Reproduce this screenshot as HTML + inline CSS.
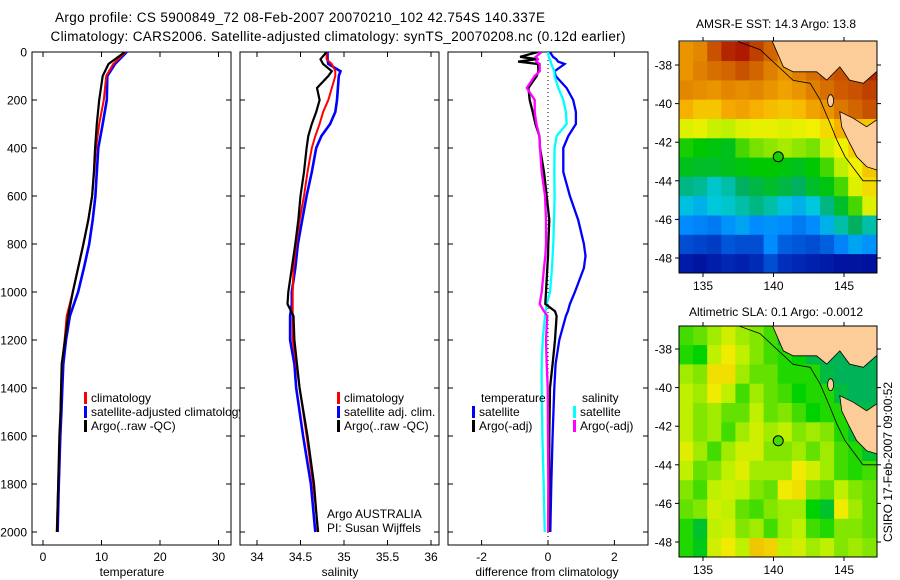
<!DOCTYPE html>
<html><head><meta charset="utf-8"><style>
html,body{margin:0;padding:0;background:#fff;}
svg{display:block;font-family:"Liberation Sans",Arial,sans-serif;}
</style></head><body>
<svg id="fig" width="900" height="580" viewBox="0 0 900 580" xmlns="http://www.w3.org/2000/svg">
<defs>
<clipPath id="clipMap1"><rect x="679" y="41" width="198" height="232"/></clipPath>
<clipPath id="clipMap2"><rect x="679" y="326" width="198" height="231"/></clipPath>
<clipPath id="clipP1"><rect x="32" y="52" width="199" height="493"/></clipPath>
<clipPath id="clipP2"><rect x="240" y="52" width="199" height="493"/></clipPath>
<clipPath id="clipP3"><rect x="448" y="52" width="200" height="493"/></clipPath>
</defs>
<text x="300" y="22" text-anchor="middle" font-size="13.5" textLength="490">Argo profile: CS 5900849_72 08-Feb-2007 20070210_102 42.754S 140.337E</text>
<text x="338" y="41" text-anchor="middle" font-size="13.5" textLength="575">Climatology: CARS2006. Satellite-adjusted climatology: synTS_20070208.nc (0.12d earlier)</text>
<g id="p1"></g>
<g id="p2"></g>
<g id="p3"></g>
<g id="m1"></g>
<g id="m2"></g>
<text x="776" y="28" text-anchor="middle" font-size="12">AMSR-E SST: 14.3 Argo: 13.8</text>
<text x="776" y="316" text-anchor="middle" font-size="12">Altimetric SLA: 0.1 Argo: -0.0012</text>
<text transform="translate(892,462) rotate(-90)" text-anchor="middle" font-size="12">CSIRO 17-Feb-2007 09:00:52</text>
</svg>
<script>
// ---------- data ----------
const depthT = [0,50,100,200,300,400,500,600,700,800,900,1000,1100,1200,1300,1400,1500,1600,1800,2000];
const tempArgo = [14.0,11.2,10.2,9.6,9.2,8.9,8.7,8.4,7.75,6.9,6.0,5.1,4.3,3.76,3.2,3.1,3.0,2.8,2.6,2.4];
const tempClim = [14.1,12.0,10.8,10.4,9.6,9.06,8.75,8.4,7.75,6.9,6.0,5.1,4.05,3.7,3.25,3.1,3.0,2.85,2.6,2.35];
const tempSat = [14.3,12.3,11.0,10.9,10.2,9.45,9.2,8.95,8.5,7.9,7.0,6.0,4.6,3.93,3.47,3.3,3.15,2.95,2.7,2.5];

const depthS = [0,30,50,80,100,150,200,250,300,350,400,500,600,700,800,900,1000,1050,1100,1200,1300,1400,1600,1800,2000];
const salArgo = [34.80,34.73,34.76,34.86,34.82,34.69,34.72,34.68,34.63,34.59,34.57,34.54,34.50,34.475,34.44,34.40,34.36,34.35,34.42,34.43,34.46,34.49,34.58,34.655,34.70];
const salClim = [34.80,34.80,34.86,34.90,34.90,34.86,34.82,34.76,34.72,34.67,34.63,34.58,34.54,34.49,34.45,34.42,34.41,34.41,34.41,34.41,34.45,34.49,34.57,34.645,34.705];
const salSat = [34.81,34.81,34.82,34.96,34.94,34.93,34.92,34.90,34.84,34.74,34.68,34.63,34.57,34.52,34.47,34.44,34.40,34.40,34.38,34.38,34.43,34.45,34.53,34.62,34.67];

const depthD = [0,20,30,40,50,80,100,150,200,250,300,350,400,500,600,700,800,850,900,1000,1050,1080,1100,1200,1300,1400,1600,1800,2000];
const diffTSat = [0.06,0.15,0.25,0.3,0.5,0.2,0.23,0.56,0.76,0.84,0.84,0.61,0.46,0.46,0.66,0.91,1.08,1.13,1.08,0.81,0.66,0.6,0.54,0.34,0.23,0.19,0.14,0.1,0.07];
const diffTArgo = [-0.3,-0.84,-0.34,-0.9,-0.3,-0.29,-0.34,-0.59,-0.55,-0.46,-0.38,-0.26,-0.24,-0.12,-0.04,0.04,0.01,0,-0.02,-0.06,-0.08,0.21,0.26,0.21,0.14,0.06,0.04,0.04,0.03];
const diffSSat = [0,0.02,0.05,0.08,0.1,0.19,0.2,0.31,0.46,0.54,0.56,0.26,0.2,0.19,0.2,0.18,0.16,0.14,0.12,0.06,-0.04,-0.07,-0.09,-0.16,-0.19,-0.19,-0.17,-0.13,-0.1];
const diffSArgo = [-0.19,-0.37,-0.3,-0.35,-0.25,-0.25,-0.4,-0.64,-0.4,-0.4,-0.35,-0.26,-0.24,-0.19,-0.09,-0.06,-0.06,-0.08,-0.12,-0.19,-0.25,-0.12,-0.02,-0.06,-0.04,-0.01,0.0,0.01,0];

const depthTicks = [0,200,400,600,800,1000,1200,1400,1600,1800,2000];
const tempTicks = [0,10,20,30];
const salTicks = [34,34.5,35,35.5,36];
const diffTicks = [-2,0,2];

const mapLons = [133.8,134.8,135.8,136.8,137.8,138.8,139.8,140.8,141.8,142.8,143.8,144.8,145.8,146.8];
const mapLats = [-37.3,-38.3,-39.3,-40.3,-41.3,-42.3,-43.3,-44.3,-45.3,-46.3,-47.3,-48.3];
const sstGrid = [
[16.0,16.2,16.8,17.2,17.3,17.0,16.6,16.0,15.5,16.5,16.5,16.5,16.5,16.5],
[16.0,16.3,16.5,16.6,16.8,16.6,16.3,16.0,16.3,16.5,16.7,16.8,17.0,17.2],
[16.2,16.1,16.0,16.2,16.1,16.2,16.0,15.8,16.0,16.3,16.5,16.7,16.8,17.0],
[15.6,15.4,15.4,15.7,15.8,15.6,15.5,15.4,15.5,15.8,16.0,16.4,16.6,16.8],
[14.8,14.9,14.6,14.5,14.8,14.9,14.9,14.8,14.9,15.0,15.2,15.6,15.5,15.4],
[13.8,13.7,13.6,13.5,14.0,14.2,14.3,14.4,14.3,14.2,14.6,15.0,15.3,15.2],
[13.5,13.4,13.4,13.5,13.6,13.7,13.7,13.6,13.5,13.7,14.0,14.5,15.0,15.4],
[12.8,12.7,12.4,12.6,13.0,13.2,13.4,13.2,13.0,13.4,13.6,14.0,14.8,15.2],
[12.2,12.0,12.3,12.4,12.6,12.8,12.6,12.2,12.0,12.3,12.8,13.4,14.0,14.8],
[11.5,11.4,11.3,11.6,11.8,11.5,11.6,11.5,11.3,11.5,12.0,12.6,13.0,12.6],
[10.8,10.7,10.6,10.9,10.8,10.8,11.5,11.0,10.9,10.8,11.0,11.4,11.8,11.6],
[9.8,9.6,9.9,10.2,10.0,10.3,10.8,10.4,10.2,10.0,9.8,9.6,9.6,9.5]];
const slaGrid = [
[0.35,0.4,0.5,0.6,0.5,0.45,0.35,0.1,0.05,0.05,0.05,0.05,0.05,0.05],
[0.3,0.25,0.55,0.7,0.55,0.45,0.35,0.3,0.25,0.1,0.05,0.05,0.05,0.05],
[0.5,0.45,0.75,0.75,0.5,0.4,0.4,0.3,0.3,0.3,0.1,0.05,0.05,0.05],
[0.55,0.5,0.7,0.55,0.35,0.5,0.4,0.35,0.25,0.3,0.3,0.1,0.05,0.05],
[0.55,0.45,0.5,0.4,0.4,0.55,0.4,0.45,0.35,0.25,0.3,0.3,0.1,0.1],
[0.55,0.45,0.5,0.35,0.5,0.6,0.5,0.55,0.45,0.5,0.45,0.3,0.15,0.1],
[0.65,0.5,0.35,0.5,0.6,0.6,0.45,0.45,0.5,0.4,0.5,0.35,0.3,0.15],
[0.55,0.4,0.45,0.55,0.65,0.5,0.5,0.5,0.7,0.6,0.5,0.35,0.3,0.35],
[0.45,0.35,0.55,0.6,0.55,0.45,0.4,0.7,0.75,0.45,0.4,0.55,0.45,0.4],
[0.4,0.45,0.6,0.55,0.4,0.35,0.45,0.5,0.5,0.25,0.15,0.7,0.5,0.4],
[0.3,0.15,0.55,0.6,0.45,0.5,0.35,0.5,0.55,0.35,0.3,0.45,0.45,0.4],
[0.3,0.2,0.6,0.7,0.55,0.85,0.8,0.55,0.6,0.5,0.55,0.45,0.5,0.45]];
const lonTicks = [135,140,145];
const latTicks = [-38,-40,-42,-44,-46,-48];
const argoPos = [140.337,-42.754];
const argoSST = 13.8;
const argoSLA = 0.35;

// ---------- helpers ----------
const NS = "http://www.w3.org/2000/svg";
function mk(parent, tag, attrs){const e=document.createElementNS(NS,tag);for(const k in attrs)e.setAttribute(k,attrs[k]);parent.appendChild(e);return e;}
const yD = d => 52 + 0.24*d;
const xT = v => 43 + 5.85*v;
const xS = v => 257 + 87*(v-34);
const xDf = v => 548 + 33.2*v;
const lonX = l => 703 + 14.1*(l-135);
const latY1 = l => 65 + 19.3*(-38-l);
const latY2 = l => 349 + 19.3*(-38-l);

function line(g, xs, vals, depths, xf, color, w, name, clip){
  const pts = vals.map((v,i)=>xf(v).toFixed(1)+","+yD(depths[i]).toFixed(1)).join(" ");
  const p = mk(g,"polyline",{points:pts,fill:"none",stroke:color,"stroke-width":w,"stroke-linejoin":"miter","clip-path":"url(#"+clip+")"});
  
  
}
function frame(g, x0, x1, name){
  const r = mk(g,"rect",{x:x0,y:52,width:x1-x0,height:493,fill:"#fff",stroke:"#000","stroke-width":1});
  
  
}
function yAxis(g, x0, x1, labels){
  depthTicks.forEach(d=>{
    const y=yD(d);
    mk(g,"line",{x1:x0,y1:y,x2:x0+5,y2:y,stroke:"#000"});
    mk(g,"line",{x1:x1-5,y1:y,x2:x1,y2:y,stroke:"#000"});
    if(labels){
      const t=mk(g,"text",{x:x0-5,y:y+4.5,"text-anchor":"end","font-size":12});
      t.textContent=d;
      
      
    }
  });
}
function xAxis(g, ticks, xf, fmt, title, cx){
  ticks.forEach(v=>{
    const x=xf(v);
    mk(g,"line",{x1:x,y1:52,x2:x,y2:57,stroke:"#000"});
    mk(g,"line",{x1:x,y1:540,x2:x,y2:545,stroke:"#000"});
    const t=mk(g,"text",{x:x,y:561,"text-anchor":"middle","font-size":12});
    t.textContent=fmt(v);
    
    
  });
  const t=mk(g,"text",{x:cx,y:576,"text-anchor":"middle","font-size":12});
  t.textContent=title;
  
  
}
function legend(g, x, y, color, text, name){
  if(color){mk(g,"rect",{x:x,y:y-10,width:3,height:12,fill:color});}
  const t=mk(g,"text",{x:x+7,y:y,"font-size":12});
  t.textContent=text;
  
  
}

// ---------- panel 1 ----------
const p1=document.getElementById("p1");
frame(p1,32,231,"temperature-axes");
yAxis(p1,32,231,true);
xAxis(p1,tempTicks,xT,v=>v,"temperature",132);
line(p1,null,tempSat,depthT,xT,"#0000ff",2.6,"temp-satellite-line","clipP1");
line(p1,null,tempClim,depthT,xT,"#ff0000",2,"temp-climatology-line","clipP1");
line(p1,null,tempArgo,depthT,xT,"#000000",2.2,"temp-argo-line","clipP1");
legend(p1,84,402,"#ff0000","climatology","legend-climatology");
legend(p1,84,416,"#0000ff","satellite-adjusted climatology","legend-satellite-adjusted");
legend(p1,84,430,"#000000","Argo(..raw -QC)","legend-argo");

// ---------- panel 2 ----------
const p2=document.getElementById("p2");
frame(p2,240,439,"salinity-axes");
yAxis(p2,240,439,false);
xAxis(p2,salTicks,xS,v=>String(v),"salinity",340);
line(p2,null,salSat,depthS,xS,"#0000ff",2.6,"sal-satellite-line","clipP2");
line(p2,null,salClim,depthS,xS,"#ff0000",2,"sal-climatology-line","clipP2");
line(p2,null,salArgo,depthS,xS,"#000000",2.2,"sal-argo-line","clipP2");
legend(p2,337,402,"#ff0000","climatology","legend-climatology");
legend(p2,337,416,"#0000ff","satellite adj. clim.","legend-satellite-adj");
legend(p2,337,430,"#000000","Argo(..raw -QC)","legend-argo");
legend(p2,320,518,null,"Argo AUSTRALIA","argo-australia-label");
legend(p2,320,532,null,"PI: Susan Wijffels","pi-label");

// ---------- panel 3 ----------
const p3=document.getElementById("p3");
frame(p3,448,648,"difference-axes");
yAxis(p3,448,648,false);
xAxis(p3,diffTicks,xDf,v=>v,"difference from climatology",547);
mk(p3,"line",{x1:xDf(0),y1:52,x2:xDf(0),y2:545,stroke:"#000","stroke-width":1,"stroke-dasharray":"1,3"});
line(p3,null,diffTSat,depthD,xDf,"#0000ff",2.3,"diff-temp-satellite-line","clipP3");
line(p3,null,diffSSat,depthD,xDf,"#00ffff",2.3,"diff-sal-satellite-line","clipP3");
line(p3,null,diffTArgo,depthD,xDf,"#000000",2.3,"diff-temp-argo-line","clipP3");
line(p3,null,diffSArgo,depthD,xDf,"#ff00ff",2.3,"diff-sal-argo-line","clipP3");
legend(p3,474,402,null,"temperature","legend-temperature-heading");
legend(p3,472,416,"#0000ff","satellite","legend-temp-satellite");
legend(p3,472,430,"#000000","Argo(-adj)","legend-temp-argo");
legend(p3,575,402,null,"salinity","legend-salinity-heading");
legend(p3,573,416,"#00ffff","satellite","legend-sal-satellite");
legend(p3,573,430,"#ff00ff","Argo(-adj)","legend-sal-argo");

// ---------- maps ----------
function cmap(stops, v){
  if(v<=stops[0][0]) return stops[0][1];
  for(let i=1;i<stops.length;i++){
    if(v<=stops[i][0]){
      const a=stops[i-1],b=stops[i],f=(v-a[0])/(b[0]-a[0]);
      return a[1].map((x,k)=>Math.round(x+(b[1][k]-x)*f));
    }
  }
  return stops[stops.length-1][1];
}
const sstStops=[[9,[0,0,140]],[10.5,[0,50,190]],[11.5,[0,140,255]],[12.3,[0,200,220]],[13,[0,176,96]],[13.7,[0,200,0]],[14.5,[190,240,0]],[15,[240,240,0]],[15.6,[248,176,0]],[16.3,[224,128,0]],[17,[192,64,0]],[17.5,[160,0,0]]];
const slaStops=[[0,[0,170,110]],[0.25,[0,210,0]],[0.4,[100,225,0]],[0.55,[190,240,0]],[0.7,[240,235,0]],[1,[240,160,0]]];
const rgb=c=>"rgb("+c.join(",")+")";

const landVic=[[139.75,-36.5],[140.7,-38.1],[141.4,-38.35],[143.06,-38.35],[143.77,-38.78],[144.7,-38.1],[145.4,-38.78],[146.37,-38.95],[147.3,-38.35],[147.6,-38.35],[147.6,-36.5]];
const landTas=[[144.7,-40.42],[145.67,-40.76],[146.6,-41.2],[147.3,-40.85],[147.6,-40.85],[147.6,-43.5],[146.6,-43.27],[145.9,-42.75],[145.3,-41.9],[144.84,-41.2]];
const isobath=[[137.5,-36.8],[139.04,-37.2],[141.4,-38.8],[142.6,-38.95],[143.3,-39.8],[144,-41],[144.5,-41.9],[145.07,-42.75],[146.35,-44],[147.3,-44]];

function drawMap(gid, grid, stops, latY, clip, yTop, yBot, argoVal, nm){
  const g=document.getElementById(gid);
  const cg=mk(g,"g",{"clip-path":"url(#"+clip+")"});
  grid.forEach((row,j)=>row.forEach((v,i)=>{
    const x0=lonX(mapLons[i]-0.5), x1=lonX(mapLons[i]+0.5);
    const y0=latY(mapLats[j]+0.5), y1=latY(mapLats[j]-0.5);
    const r=mk(cg,"rect",{x:x0.toFixed(1),y:y0.toFixed(1),width:(x1-x0+0.6).toFixed(1),height:(y1-y0+0.6).toFixed(1),fill:rgb(cmap(stops,v))});
    
    
  }));
  const poly=pts=>pts.map(p=>lonX(p[0]).toFixed(1)+","+latY(p[1]).toFixed(1)).join(" ");
  const l1=mk(cg,"polygon",{points:poly(landVic),fill:"#fccc99",stroke:"#000","stroke-width":0.8});
  
  
  const l2=mk(cg,"polygon",{points:poly(landTas),fill:"#fccc99",stroke:"#000","stroke-width":0.8});
  
  
  mk(cg,"ellipse",{cx:lonX(144.05),cy:latY(-39.85),rx:3,ry:6,fill:"#fccc99",stroke:"#000","stroke-width":0.8});
  mk(cg,"polyline",{points:poly(isobath),fill:"none",stroke:"#000","stroke-width":0.8});
  const c=mk(g,"circle",{cx:lonX(argoPos[0]),cy:latY(argoPos[1]),r:5,fill:rgb(cmap(stops,argoVal)),stroke:"#000","stroke-width":1});
  
  
  const f=mk(g,"rect",{x:679,y:yTop,width:198,height:yBot-yTop,fill:"none",stroke:"#000","stroke-width":1});
  
  
  lonTicks.forEach(l=>{
    const x=lonX(l);
    mk(g,"line",{x1:x,y1:yTop,x2:x,y2:yTop-4,stroke:"#000"});
    mk(g,"line",{x1:x,y1:yBot,x2:x,y2:yBot+4,stroke:"#000"});
    const t=mk(g,"text",{x:x,y:yBot+17,"text-anchor":"middle","font-size":12});
    t.textContent=l;
    
    
  });
  latTicks.forEach(l=>{
    const y=latY(l);
    mk(g,"line",{x1:679,y1:y,x2:675,y2:y,stroke:"#000"});
    mk(g,"line",{x1:877,y1:y,x2:881,y2:y,stroke:"#000"});
    const t=mk(g,"text",{x:672,y:y+4.5,"text-anchor":"end","font-size":12});
    t.textContent=l;
    
    
  });
}
drawMap("m1",sstGrid,sstStops,latY1,"clipMap1",41,273,argoSST,"sst");
drawMap("m2",slaGrid,slaStops,latY2,"clipMap2",326,557,argoSLA,"sla");
</script>
</body></html>
